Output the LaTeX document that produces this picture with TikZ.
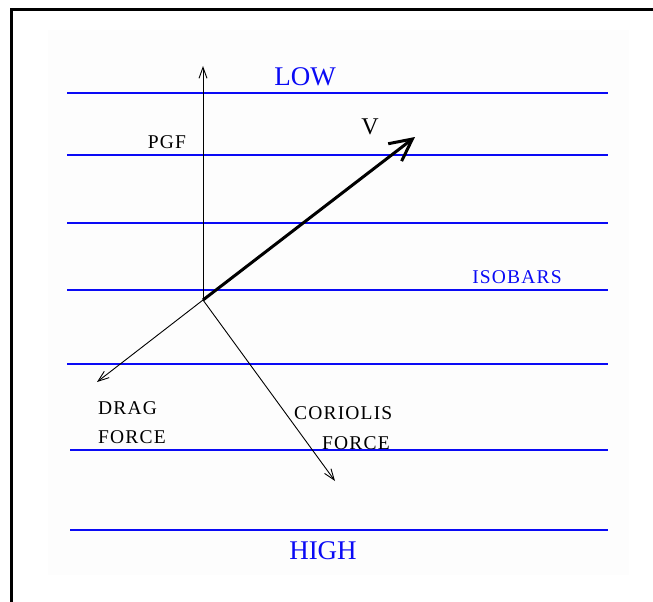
\documentclass[tikz,border=0pt]{standalone}
\usepackage{fontspec}
\setmainfont{Liberation Serif}
\newfontfamily\spaced[LetterSpace=6]{Liberation Serif}
\usetikzlibrary{arrows.meta}
\definecolor{isoblue}{RGB}{10,10,245}
\definecolor{faint}{RGB}{253,253,253}
\tikzset{
  isobar/.style={draw=isoblue, line width=1.4pt},
  biglabel/.style={text=isoblue, inner sep=0pt, font=\fontsize{27}{30}\selectfont},
  smalllabel/.style={inner sep=0pt, font=\spaced\fontsize{19.5}{23}\selectfont},
  bluelabel/.style={smalllabel, text=isoblue},
  force/.style={line width=0.9pt, -{Straight Barb[length=11pt, width=8pt]}},
  velocity/.style={line width=3pt, -{Straight Barb[length=22pt, width=22pt, line width=3pt]}},
}
\begin{document}
\begin{tikzpicture}[x=1pt, y=-1pt]
\useasboundingbox (0,0) rectangle (653,602);
\fill[faint] (48,30) rectangle (629,575);
% frame
\draw[line width=3pt] (11,602) -- (11,10) -- (653,10);
% isobars
\draw[isobar] (67,93) -- (608,93);
\draw[isobar] (67,155) -- (608,155);
\draw[isobar] (67,223) -- (608,223);
\draw[isobar] (67,290) -- (608,290);
\draw[isobar] (67,364) -- (608,364);
\draw[isobar] (70,450) -- (608,450);
\draw[isobar] (70,530) -- (608,530);
% labels
\node[biglabel] (low) at (305,76.5) {LOW};
\node[biglabel] (high) at (323,551) {HIGH};
\node[bluelabel] (iso) at (517,277.5) {ISOBARS};
\node[inner sep=0pt, font=\fontsize{24}{27}\selectfont] (vlab) at (370,127) {V};
\node[smalllabel] (pgf) at (167,142) {PGF};
\node[smalllabel, anchor=west] (drag) at (98,408.5) {DRAG};
\node[smalllabel, anchor=west] (dragf) at (98,437.5) {FORCE};
\node[smalllabel, anchor=west] (cor) at (294,413.5) {CORIOLIS};
\node[smalllabel, anchor=west] (corf) at (322,443.5) {FORCE};
% vectors
\coordinate (O) at (203,300);
\coordinate (pgfend) at (203,66);
\coordinate (vend) at (415,137);
\coordinate (dragend) at (97,382);
\coordinate (corend) at (335,481);
\draw[force] (O) -- (pgfend);
\draw[force] (O) -- (dragend);
\draw[force] (O) -- (corend);
\draw[velocity] (O) -- (vend);
\end{tikzpicture}
\end{document}
